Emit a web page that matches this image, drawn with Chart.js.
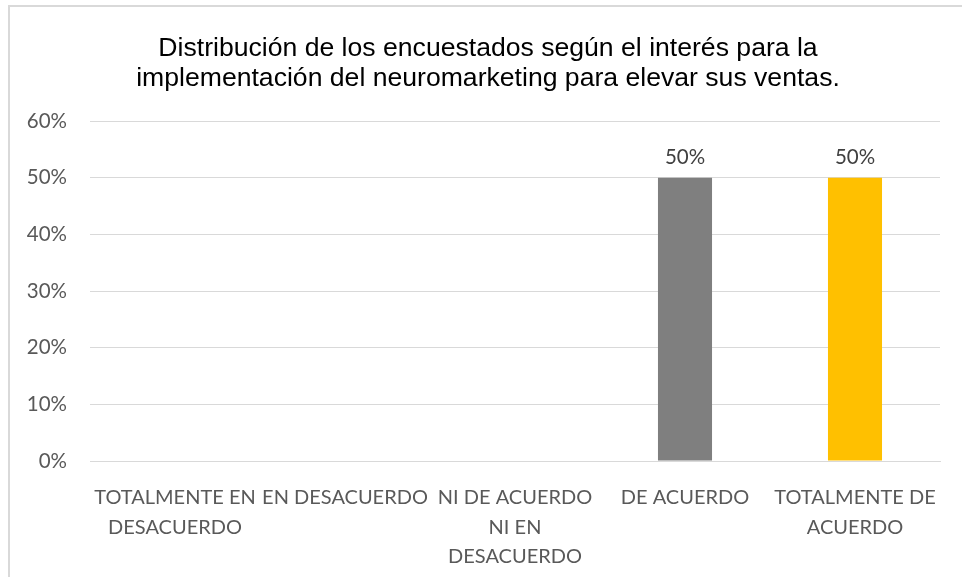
<!DOCTYPE html>
<html>
<head>
<meta charset="utf-8">
<script src="https://cdn.jsdelivr.net/npm/chart.js@4"></script>
<style>
html,body{margin:0;padding:0;background:#fff;}
#wrap{position:relative;width:962px;height:577px;overflow:hidden;}
#frame{position:absolute;left:8px;top:5px;width:1000px;height:600px;border-left:2px solid #d9d9d9;border-top:2px solid #d9d9d9;box-sizing:border-box;pointer-events:none;}
canvas{position:absolute;left:0;top:0;}
</style>
</head>
<body>
<div id="wrap">
<canvas id="c" width="962" height="577"></canvas>
<div id="frame"></div>
</div>
<script>
const titleLines = ["Distribución de los encuestados según el interés para la", "implementación del neuromarketing para elevar sus ventas."];
const categories = [
  ["TOTALMENTE EN", "DESACUERDO"],
  ["EN DESACUERDO"],
  ["NI DE ACUERDO", "NI EN", "DESACUERDO"],
  ["DE ACUERDO"],
  ["TOTALMENTE DE", "ACUERDO"]
];
const values = [0, 0, 0, 0.5, 0.5];
const barColors = ["#4472c4", "#ed7d31", "#a5a5a5", "#7f7f7f", "#ffc000"];
const yTicks = [0, 0.1, 0.2, 0.3, 0.4, 0.5, 0.6];

const pct = v => Math.round(v * 100) + "%";

const labelPlugin = {
  id: "valueLabels",
  afterDatasetsDraw(chart) {
    const ctx = chart.ctx;
    const meta = chart.getDatasetMeta(0);
    ctx.save();
    ctx.font = "20.5px Lato";
    ctx.fillStyle = "#404040";
    ctx.textAlign = "center";
    ctx.textBaseline = "bottom";
    meta.data.forEach((bar, i) => {
      if (values[i] > 0) ctx.fillText(pct(values[i]), bar.x, bar.y - 10);
    });
    ctx.restore();
  }
};

new Chart(document.getElementById("c"), {
  type: "bar",
  data: {
    labels: categories,
    datasets: [{
      data: values,
      backgroundColor: barColors,
      categoryPercentage: 1,
      barPercentage: 0.318
    }]
  },
  options: {
    responsive: false,
    animation: false,
    devicePixelRatio: 1,
    layout: { padding: { left: 14, right: 0, top: 0, bottom: 0 } },
    plugins: {
      legend: { display: false },
      tooltip: { enabled: false },
      title: {
        display: true,
        text: titleLines,
        color: "#000",
        font: { family: "'Liberation Sans', Arial, sans-serif", size: 26.6, weight: "normal", lineHeight: 1.128 },
        padding: { top: 34, bottom: 27 }
      }
    },
    scales: {
      y: {
        min: 0,
        max: 0.6,
        afterFit(scale) { scale.width = 76; },
        afterBuildTicks(scale) { scale.ticks = yTicks.map(v => ({ value: v })); },
        ticks: {
          callback: v => pct(v),
          color: "#595959",
          font: { family: "Lato", size: 20.5 },
          padding: 23
        },
        grid: { color: "#d9d9d9", lineWidth: 1, drawTicks: false },
        border: { display: false }
      },
      y2: {
        type: "linear",
        position: "right",
        afterFit(scale) { scale.width = 22; },
        grid: { display: false, drawTicks: false },
        ticks: { display: false },
        border: { display: false }
      },
      x: {
        afterFit(scale) { scale.height = 116; },
        grid: { display: false, drawTicks: false },
        border: { display: true, color: "#d9d9d9", width: 1 },
        ticks: {
          color: "#595959",
          font: { family: "Lato", size: 20, lineHeight: 1.47 },
          padding: 22,
          maxRotation: 0,
          minRotation: 0,
          autoSkip: false
        }
      }
    }
  },
  plugins: [labelPlugin]
});
</script>
</body>
</html>
